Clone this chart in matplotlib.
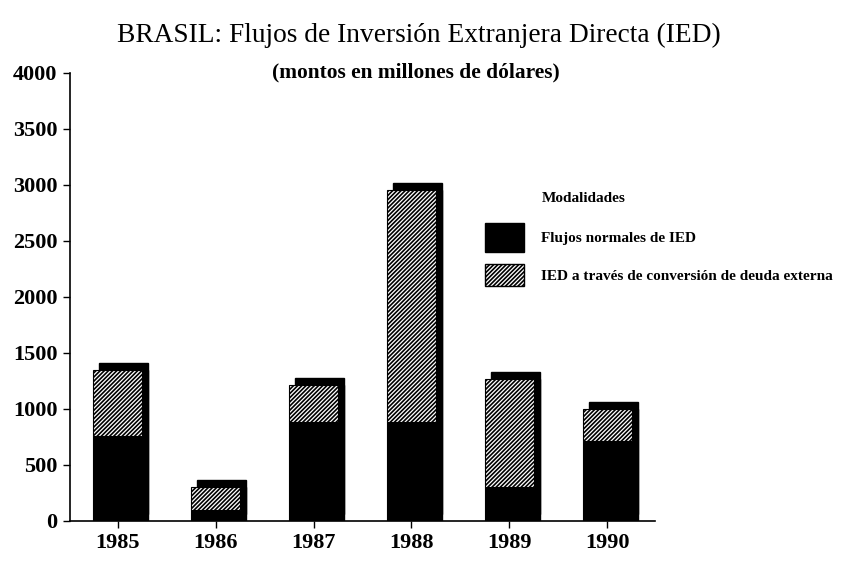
import matplotlib
matplotlib.use("Agg")
import matplotlib.pyplot as plt
import matplotlib.transforms as mtransforms
from matplotlib.patches import Patch, Rectangle
from matplotlib.legend_handler import HandlerPatch
import numpy as np

years = ['1985', '1986', '1987', '1988', '1989', '1990']
normal = [760, 100, 880, 880, 305, 710]
conversion = [590, 205, 335, 2075, 965, 290]
yticks = [0, 500, 1000, 1500, 2000, 2500, 3000, 3500, 4000]
labels = ['Flujos normales de IED', 'IED a través de conversión de deuda externa']

plt.rcParams['font.family'] = ['Liberation Serif', 'DejaVu Serif']
plt.rcParams['hatch.linewidth'] = 1.2
plt.rcParams['hatch.color'] = 'black'

fig = plt.figure(figsize=(8.43, 5.61), dpi=100)
ax = fig.add_axes([70/843, 1-521/561, 585/843, 448/561])

x = np.arange(len(years))
w = 0.5
totals = np.array(normal) + np.array(conversion)
HATCH = '////////'

# 3D-like depth (shadow) drawn behind the bars
off1 = mtransforms.offset_copy(ax.transData, fig=fig, x=6, y=0, units='dots')
off2 = mtransforms.offset_copy(ax.transData, fig=fig, x=6, y=7, units='dots')
ax.bar(x, totals, w, color='black', edgecolor='black', transform=off1, zorder=1)
ax.bar(x, totals, w, color='black', edgecolor='black', transform=off2, zorder=1)

ax.bar(x, normal, w, color='black', edgecolor='black', linewidth=0.8, zorder=2)
ax.bar(x, conversion, w, bottom=normal, color='white', edgecolor='black',
       hatch=HATCH, linewidth=0.8, zorder=2)

ax.set_xlim(-0.49, 5.49)
ax.set_ylim(0, 4000)
ax.set_yticks(yticks)
ax.set_yticklabels([str(v) for v in yticks], fontsize=16, fontweight='bold')
ax.set_xticks(x)
ax.set_xticklabels(years, fontsize=16, fontweight='bold')
ax.tick_params(axis='both', direction='out', length=5, width=1, color='black', pad=4)
ax.spines['top'].set_visible(False)
ax.spines['right'].set_visible(False)
ax.spines['left'].set_linewidth(1.2)
ax.spines['bottom'].set_linewidth(1.2)

fig.text(419/843, 1-35/561, 'BRASIL: Flujos de Inversión Extranjera Directa (IED)',
         ha='center', va='center', fontsize=19.7)
fig.text(416/843, 1-72/561, '(montos en millones de dólares)',
         ha='center', va='center', fontsize=15.4, fontweight='bold')

fig.text(542/843, 1-199/561, 'Modalidades', ha='left', va='center',
         fontsize=11, fontweight='bold')


def short_patch(legend, orig_handle, xdescent, ydescent, width, height, fontsize):
    f = 0.77
    return Rectangle((-xdescent, -ydescent + height * (1 - f) / 2), width, height * f)


handles = [Patch(facecolor='black', edgecolor='black'),
           Patch(facecolor='white', edgecolor='black', hatch=HATCH)]
leg = fig.legend(handles, labels, loc='upper left',
                 bbox_to_anchor=(485/843, 1-223/561), frameon=False,
                 borderaxespad=0, borderpad=0,
                 handlelength=2.55, handleheight=2.5,
                 handletextpad=1.1, labelspacing=0.62,
                 prop={'size': 11, 'weight': 'bold'},
                 handler_map={handles[1]: HandlerPatch(patch_func=short_patch)})

fig.savefig('out.png', dpi=100)
